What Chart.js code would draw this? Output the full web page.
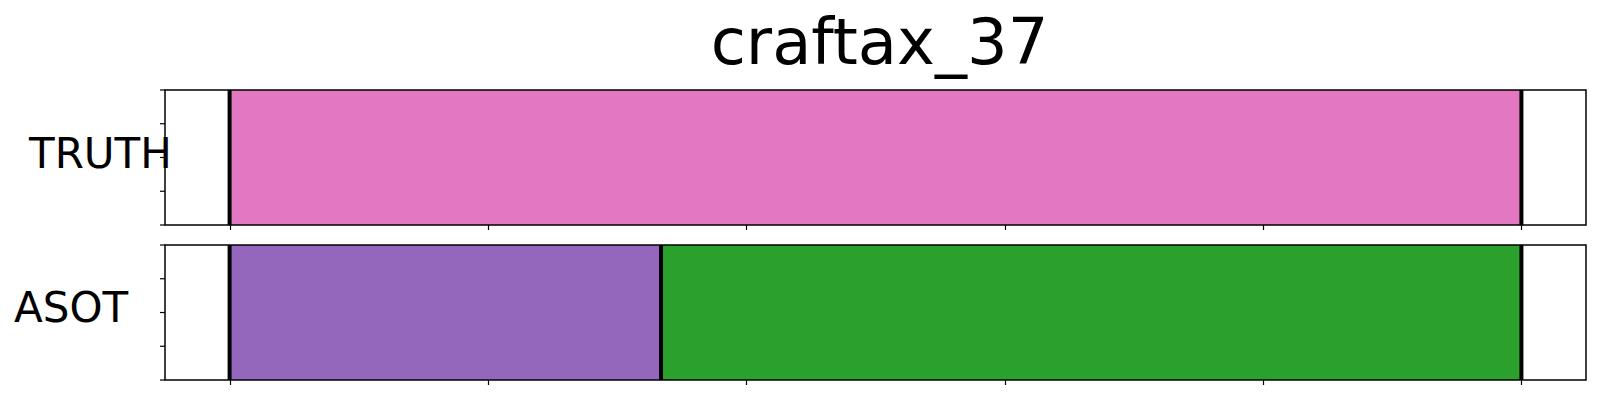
<!DOCTYPE html>
<html>
<head>
<meta charset="utf-8">
<script src="https://cdn.jsdelivr.net/npm/chart.js@4.4.1/dist/chart.umd.min.js"></script>
<style>
  html, body { margin: 0; padding: 0; background: #ffffff; }
  body { width: 1600px; height: 400px; position: relative; overflow: hidden; font-family: "DejaVu Sans", sans-serif; }
  canvas { position: absolute; left: 0; }
  .txt { position: absolute; color: #000; white-space: nowrap; font-family: "DejaVu Sans", sans-serif; line-height: 1; }
</style>
</head>
<body>
<div class="txt" id="title" style="font-size:64px; left:0; width:1759px; text-align:center; top:10px;">craftax_37</div>
<div class="txt" id="lab0" style="font-size:42px; left:29px; top:133px;">TRUTH</div>
<div class="txt" id="lab1" style="font-size:42px; left:14px; top:287px;">ASOT</div>
<canvas id="c0" width="1600" height="240" style="top:0px;"></canvas>
<canvas id="c1" width="1600" height="160" style="top:240px;"></canvas>
<script>
// ---- data ----
const chartTitle = 'craftax_37';
const rowLabels = ['TRUTH', 'ASOT'];
const xTicks = [0, 100, 200, 300, 400, 500];
const xRange = [-25, 525];
const yTickCount = 5;
// segment boundaries (frames) and action ids per row
const truthBounds = [0, 500];
const truthActions = ['action_pink'];
const asotBounds = [0, 167, 500];
const asotActions = ['action_purple', 'action_green'];
// ---- styles ----
const actionColors = {
  action_pink: '#e377c2',
  action_purple: '#9467bd',
  action_green: '#2ca02c'
};

function makeDatasets(bounds, actions) {
  return actions.map((a, i) => ({
    label: a,
    data: [[bounds[i], bounds[i + 1]]],
    backgroundColor: actionColors[a],
    borderWidth: 0,
    barPercentage: 1,
    categoryPercentage: 1
  }));
}

const framePlugin = {
  id: 'frame',
  afterDatasetsDraw(chart, args, opts) {
    const ctx = chart.ctx;
    const a = chart.chartArea;
    const xs = chart.scales.x;
    ctx.save();
    // boundary lines
    ctx.strokeStyle = '#000';
    ctx.lineWidth = 4;
    opts.bounds.forEach(v => {
      const px = xs.getPixelForValue(v);
      ctx.beginPath();
      ctx.moveTo(px, a.top);
      ctx.lineTo(px, a.bottom);
      ctx.stroke();
    });
    // frame
    ctx.lineWidth = 1.5;
    ctx.strokeRect(a.left, a.top, a.right - a.left, a.bottom - a.top);
    // x ticks
    ctx.lineWidth = 1.2;
    xTicks.forEach(v => {
      const px = Math.round(xs.getPixelForValue(v)) + 0.5;
      ctx.beginPath();
      ctx.moveTo(px, a.bottom);
      ctx.lineTo(px, a.bottom + 5);
      ctx.stroke();
    });
    // y ticks
    for (let i = 0; i < yTickCount; i++) {
      const py = a.top + (a.bottom - a.top) * i / (yTickCount - 1);
      ctx.beginPath();
      ctx.moveTo(a.left - 5, py);
      ctx.lineTo(a.left, py);
      ctx.stroke();
    }
    ctx.restore();
  }
};

function makeChart(id, label, bounds, actions, padding) {
  return new Chart(document.getElementById(id), {
    type: 'bar',
    data: { labels: [label], datasets: makeDatasets(bounds, actions) },
    options: {
      responsive: false,
      animation: false,
      indexAxis: 'y',
      layout: { padding: padding },
      scales: {
        x: { display: false, min: xRange[0], max: xRange[1] },
        y: { display: false, stacked: true }
      },
      plugins: {
        legend: { display: false },
        tooltip: { enabled: false },
        title: { display: false },
        frame: { bounds: bounds }
      }
    },
    plugins: [framePlugin]
  });
}

document.getElementById('title').textContent = chartTitle;
document.getElementById('lab0').textContent = rowLabels[0];
document.getElementById('lab1').textContent = rowLabels[1];

makeChart('c0', rowLabels[0], truthBounds, truthActions, { left: 165, right: 14, top: 90, bottom: 15 });
makeChart('c1', rowLabels[1], asotBounds, asotActions, { left: 165, right: 14, top: 5, bottom: 20 });
</script>
</body>
</html>
